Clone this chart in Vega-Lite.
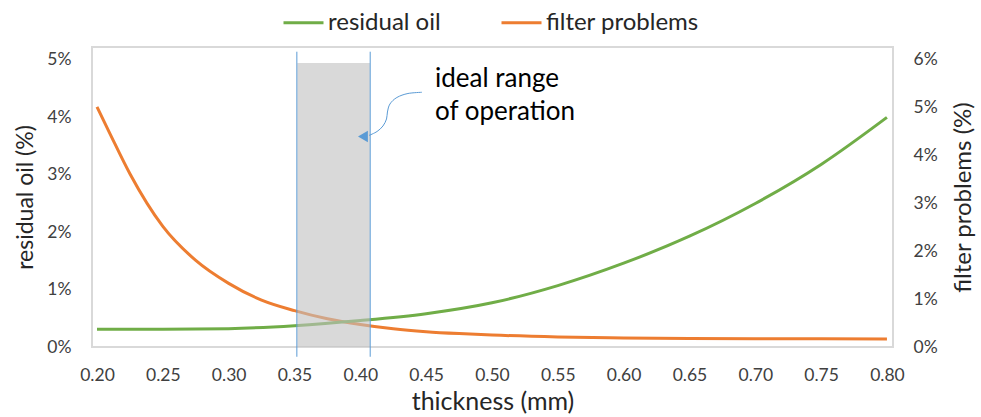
{
  "$schema": "https://vega.github.io/schema/vega-lite/v6.json",
  "width": 801,
  "height": 300,
  "autosize": {"type": "none"},
  "padding": {"left": 92, "top": 47, "right": 88, "bottom": 70},
  "background": "white",
  "config": {
    "font": "Lato",
    "view": {"stroke": "#D9D9D9", "strokeWidth": 2},
    "axis": {
      "grid": false, "ticks": false, "domain": false,
      "labelFont": "Lato", "labelFontSize": 17.5, "labelColor": "#404040",
      "titleFont": "Lato", "titleFontSize": 23, "titleFontWeight": "normal", "titleColor": "#262626"
    },
    "legend": {"labelFont": "Lato", "labelFontSize": 24, "labelColor": "#262626"}
  },
  "datasets": {
    "curves": [
      {"t": 0.20, "series": "residual oil", "v": 0.31},
      {"t": 0.25, "series": "residual oil", "v": 0.31},
      {"t": 0.30, "series": "residual oil", "v": 0.32},
      {"t": 0.35, "series": "residual oil", "v": 0.37},
      {"t": 0.40, "series": "residual oil", "v": 0.46},
      {"t": 0.45, "series": "residual oil", "v": 0.58},
      {"t": 0.50, "series": "residual oil", "v": 0.77},
      {"t": 0.55, "series": "residual oil", "v": 1.07},
      {"t": 0.60, "series": "residual oil", "v": 1.46},
      {"t": 0.65, "series": "residual oil", "v": 1.93},
      {"t": 0.70, "series": "residual oil", "v": 2.50},
      {"t": 0.75, "series": "residual oil", "v": 3.18},
      {"t": 0.80, "series": "residual oil", "v": 4.00},
      {"t": 0.200, "series": "filter problems", "v": 5.02},
      {"t": 0.210, "series": "filter problems", "v": 4.45},
      {"t": 0.225, "series": "filter problems", "v": 3.62},
      {"t": 0.250, "series": "filter problems", "v": 2.52},
      {"t": 0.275, "series": "filter problems", "v": 1.81},
      {"t": 0.300, "series": "filter problems", "v": 1.33},
      {"t": 0.325, "series": "filter problems", "v": 0.98},
      {"t": 0.350, "series": "filter problems", "v": 0.76},
      {"t": 0.375, "series": "filter problems", "v": 0.59},
      {"t": 0.400, "series": "filter problems", "v": 0.47},
      {"t": 0.425, "series": "filter problems", "v": 0.38},
      {"t": 0.450, "series": "filter problems", "v": 0.32},
      {"t": 0.475, "series": "filter problems", "v": 0.28},
      {"t": 0.500, "series": "filter problems", "v": 0.25},
      {"t": 0.550, "series": "filter problems", "v": 0.21},
      {"t": 0.600, "series": "filter problems", "v": 0.19},
      {"t": 0.650, "series": "filter problems", "v": 0.18},
      {"t": 0.700, "series": "filter problems", "v": 0.175},
      {"t": 0.750, "series": "filter problems", "v": 0.17},
      {"t": 0.800, "series": "filter problems", "v": 0.165}
    ],
    "band": [{"x0": 0.3521, "x1": 0.4073, "y0": 0, "y1": 4.947}],
    "edges": [
      {"x": 0.3518, "y0": -0.17, "y1": 5.144},
      {"x": 0.4075, "y0": -0.17, "y1": 5.144}
    ],
    "arrow": [
      {"i": 0, "x": 0.4468, "y": 4.437},
      {"i": 1, "x": 0.4362, "y": 4.416},
      {"i": 2, "x": 0.4278, "y": 4.347},
      {"i": 3, "x": 0.4225, "y": 4.233},
      {"i": 4, "x": 0.4206, "y": 4.094},
      {"i": 5, "x": 0.4199, "y": 3.972},
      {"i": 6, "x": 0.4172, "y": 3.850},
      {"i": 7, "x": 0.4127, "y": 3.754},
      {"i": 8, "x": 0.4066, "y": 3.685}
    ],
    "head": [{"x": 0.4020, "y": 3.667}],
    "label": [
      {"x": 0.4567, "y": 4.524, "text": "ideal range"},
      {"x": 0.4567, "y": 3.955, "text": "of operation"}
    ]
  },
  "layer": [
    {
      "data": {"name": "curves"},
      "transform": [{"filter": "datum.series === 'filter problems'"}],
      "mark": {"type": "line", "strokeWidth": 3, "interpolate": "monotone"},
      "encoding": {
        "x": {"field": "t", "type": "quantitative", "scale": {"domain": [0.1962, 0.8046], "nice": false, "zero": false},
              "axis": {"title": "thickness (mm)", "titleFontSize": 25, "values": [0.2, 0.25, 0.3, 0.35, 0.4, 0.45, 0.5, 0.55, 0.6, 0.65, 0.7, 0.75, 0.8], "format": ".2f", "labelPadding": 19, "titlePadding": 6}},
        "y": {"field": "v", "type": "quantitative", "scale": {"domain": [0, 6.27], "nice": false},
              "axis": {"orient": "right", "title": "filter problems (%)", "titleFontSize": 24, "values": [0, 1, 2, 3, 4, 5, 6], "labelExpr": "datum.value + '%'", "labelPadding": 20, "titlePadding": 14, "titleAngle": 270, "titleBaseline": "top"}},
        "color": {"field": "series", "type": "nominal",
                  "scale": {"domain": ["residual oil", "filter problems"], "range": ["#70AD47", "#ED7D31"]},
                  "legend": {"title": null, "orient": "none", "direction": "horizontal", "legendX": 190, "legendY": -46, "symbolType": "stroke", "symbolSize": 1600, "symbolStrokeWidth": 3, "labelOffset": 3, "columnPadding": 54}}
      }
    },
    {
      "layer": [
        {
          "data": {"name": "curves"},
          "transform": [{"filter": "datum.series === 'residual oil'"}],
          "mark": {"type": "line", "strokeWidth": 3, "interpolate": "monotone"},
          "encoding": {
            "x": {"field": "t", "type": "quantitative", "scale": {"domain": [0.1962, 0.8046], "nice": false, "zero": false}},
            "y": {"field": "v", "type": "quantitative", "scale": {"domain": [0, 5.226], "nice": false},
                  "axis": {"orient": "left", "title": "residual oil (%)", "values": [0, 1, 2, 3, 4, 5], "labelExpr": "datum.value + '%'", "labelPadding": 21, "titlePadding": 9}},
            "color": {"field": "series", "type": "nominal"}
          }
        },
        {
          "data": {"name": "band"},
          "mark": {"type": "rect", "color": "#BFBFBF", "opacity": 0.6},
          "encoding": {
            "x": {"field": "x0", "type": "quantitative"},
            "x2": {"field": "x1"},
            "y": {"field": "y0", "type": "quantitative"},
            "y2": {"field": "y1"}
          }
        },
        {
          "data": {"name": "edges"},
          "mark": {"type": "rule", "color": "#5B9BD5", "strokeWidth": 1},
          "encoding": {
            "x": {"field": "x", "type": "quantitative"},
            "y": {"field": "y0", "type": "quantitative"},
            "y2": {"field": "y1"}
          }
        },
        {
          "data": {"name": "arrow"},
          "mark": {"type": "line", "color": "#5B9BD5", "strokeWidth": 1, "interpolate": "cardinal"},
          "encoding": {
            "x": {"field": "x", "type": "quantitative"},
            "y": {"field": "y", "type": "quantitative"},
            "order": {"field": "i", "type": "quantitative"}
          }
        },
        {
          "data": {"name": "head"},
          "mark": {"type": "point", "shape": "triangle-left", "filled": true, "color": "#5B9BD5", "size": 130, "opacity": 1, "strokeWidth": 0},
          "encoding": {
            "x": {"field": "x", "type": "quantitative"},
            "y": {"field": "y", "type": "quantitative"}
          }
        },
        {
          "data": {"name": "label"},
          "mark": {"type": "text", "align": "left", "baseline": "alphabetic", "font": "Lato", "fontSize": 26, "color": "#000000"},
          "encoding": {
            "x": {"field": "x", "type": "quantitative"},
            "y": {"field": "y", "type": "quantitative"},
            "text": {"field": "text"}
          }
        }
      ]
    }
  ],
  "resolve": {"scale": {"y": "independent"}}
}
